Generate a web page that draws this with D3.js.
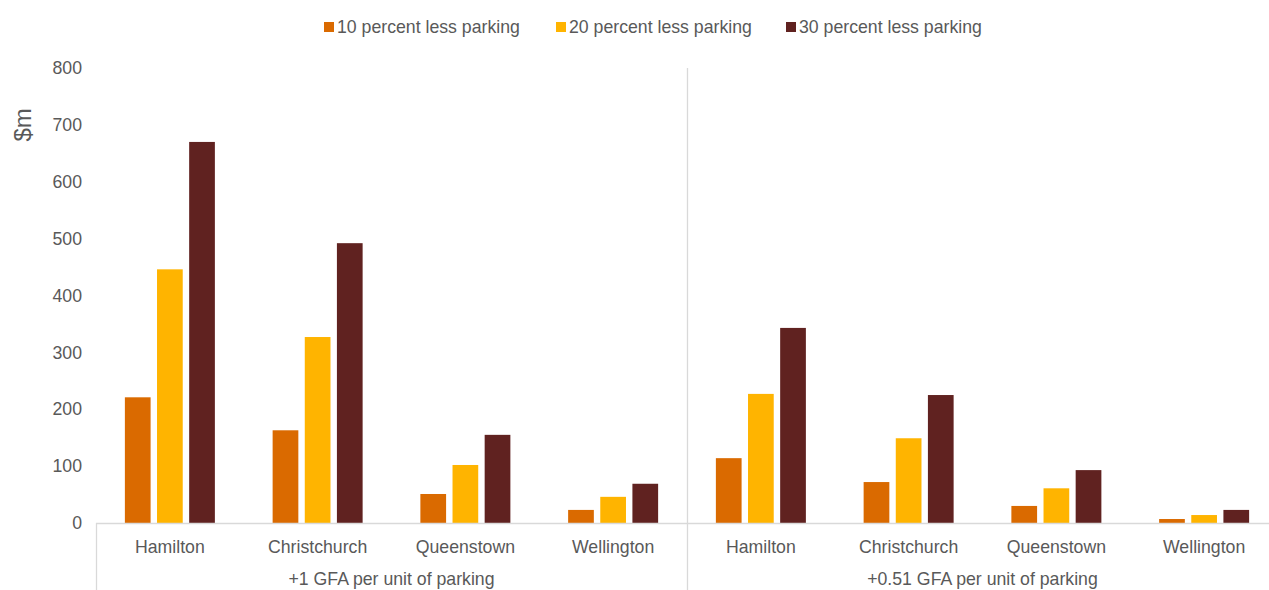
<!DOCTYPE html>
<html>
<head>
<meta charset="utf-8">
<script src="https://cdn.jsdelivr.net/npm/d3@7/dist/d3.min.js"></script>
<style>
  html, body { margin: 0; padding: 0; background: #fff; }
  svg { display: block; font-family: "Liberation Sans", Arial, sans-serif; }
</style>
</head>
<body>
<svg id="chart" width="1269" height="590"></svg>
<script>
// Cities within each scenario group
const cities = ["Hamilton", "Christchurch", "Queenstown", "Wellington"];
// Scenario groups shown along the second axis row
const groups = ["+1 GFA per unit of parking", "+0.51 GFA per unit of parking"];
// Series (legend entries)
const seriesNames = ["10 percent less parking", "20 percent less parking", "30 percent less parking"];
const seriesColors = ["#DA6A00", "#FFB400", "#602220"];
// Values ($m) per series, ordered group by group, city by city
const less10 = [221, 163, 51, 23, 114, 72, 30, 7];
const less20 = [446, 327, 102, 46, 227, 149, 61, 14];
const less30 = [670, 492, 155, 69, 343, 225, 93, 23];
const yTicks = [0, 100, 200, 300, 400, 500, 600, 700, 800];

const series = [less10, less20, less30];
const categories = [];
groups.forEach((g, gi) => cities.forEach((c, ci) => categories.push({ key: gi + "-" + c, city: c, group: g, idx: gi * cities.length + ci })));

const svg = d3.select("#chart");
const plotLeft = 96, plotRight = 1278, plotTop = 68, plotBottom = 523;
const textColor = "#595959";
const lineColor = "#D9D9D9";
const fontSize = "17.7px";

const x = d3.scaleBand().domain(categories.map(d => d.key)).range([plotLeft, plotRight]);
const xInner = d3.scaleBand().domain(d3.range(series.length)).range([-45, 45]).paddingInner(0.2);
const y = d3.scaleLinear().domain([0, 800]).range([plotBottom, plotTop]);

// Y axis labels
const yAxis = d3.axisLeft(y).tickValues(yTicks).tickSize(0).tickPadding(14);
const gy = svg.append("g").attr("transform", `translate(${plotLeft},0)`).call(yAxis);
gy.select(".domain").remove();
gy.selectAll("text").attr("fill", textColor).style("font-size", fontSize).style("font-family", "Liberation Sans, Arial, sans-serif");

svg.append("text")
  .attr("transform", `translate(31,${y(700)}) rotate(-90)`)
  .attr("text-anchor", "middle")
  .attr("fill", textColor)
  .style("font-size", "24px")
  .text("$m");

// Bars
categories.forEach(cat => {
  const g = svg.append("g").attr("transform", `translate(${x(cat.key) + x.bandwidth() / 2},0)`);
  series.forEach((vals, si) => {
    const v = vals[cat.idx];
    g.append("rect")
      .attr("x", xInner(si))
      .attr("width", xInner.bandwidth())
      .attr("y", y(v))
      .attr("height", y(0) - y(v))
      .attr("fill", seriesColors[si]);
  });
});

// Baseline and group separators
svg.append("line").attr("x1", plotLeft).attr("x2", plotRight).attr("y1", y(0) + 0.5).attr("y2", y(0) + 0.5)
  .attr("stroke", lineColor).attr("stroke-width", 1.3);
const groupWidth = x.step() * cities.length;
svg.append("line").attr("x1", plotLeft + 0.5).attr("x2", plotLeft + 0.5).attr("y1", y(0)).attr("y2", 590)
  .attr("stroke", lineColor).attr("stroke-width", 1.3);
svg.append("line").attr("x1", plotLeft + groupWidth + 0.5).attr("x2", plotLeft + groupWidth + 0.5).attr("y1", plotTop).attr("y2", 590)
  .attr("stroke", lineColor).attr("stroke-width", 1.3);

// City labels
const xAxis = d3.axisBottom(x).tickSize(0).tickPadding(17).tickFormat(k => categories.find(c => c.key === k).city);
const gx = svg.append("g").attr("transform", `translate(0,${plotBottom})`).call(xAxis);
gx.select(".domain").remove();
gx.selectAll("text").attr("fill", textColor).style("font-size", fontSize).style("font-family", "Liberation Sans, Arial, sans-serif");

// Group labels
groups.forEach((g, gi) => {
  svg.append("text")
    .attr("x", plotLeft + groupWidth * gi + groupWidth / 2)
    .attr("y", 585)
    .attr("text-anchor", "middle")
    .attr("fill", textColor)
    .style("font-size", fontSize)
    .text(g);
});

// Legend
const legendX = [324, 556, 786];
const legend = svg.append("g");
seriesNames.forEach((name, i) => {
  legend.append("rect").attr("x", legendX[i]).attr("y", 22).attr("width", 10).attr("height", 10).attr("fill", seriesColors[i]);
  legend.append("text").attr("x", legendX[i] + 13).attr("y", 33).attr("fill", textColor)
    .style("font-size", fontSize).text(name);
});
</script>
</body>
</html>
